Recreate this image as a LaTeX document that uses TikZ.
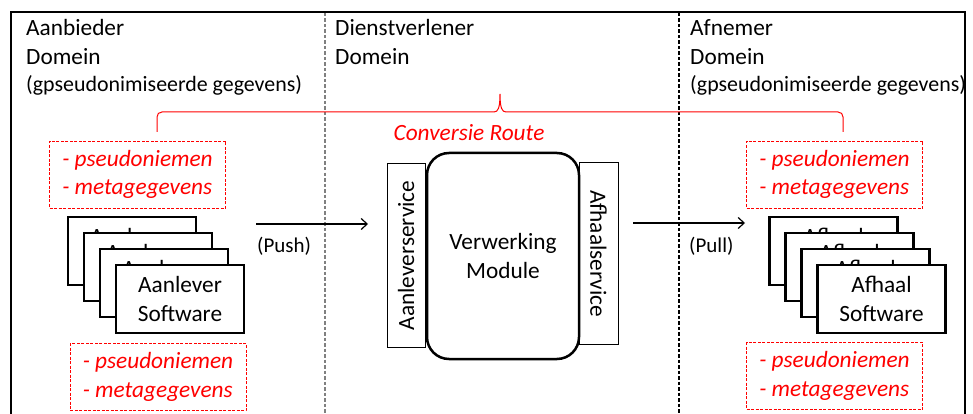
\documentclass[tikz,border=0pt]{standalone}
\usepackage{fontspec}
\setmainfont{Carlito}
\usetikzlibrary{arrows.meta}
\definecolor{divgray}{RGB}{128,128,128}
\begin{document}
\begin{tikzpicture}[x=1pt,y=-1pt,
  ttl/.style={anchor=base west, inner sep=0pt, align=left, font=\fontsize{23.3}{29}\selectfont},
  subttl/.style={anchor=base west, inner sep=0pt, font=\fontsize{21.9}{27}\selectfont},
  redbox/.style={draw=red, line width=0.9pt, dash pattern=on 3pt off 1.5pt, text=red, align=left,
    font=\fontsize{23.3}{28.5}\selectfont\itshape, inner xsep=9pt, minimum height=67pt, minimum width=176pt},
  swbox/.style={draw, line width=2.5pt, fill=white, minimum width=128pt, minimum height=68pt,
    align=center, font=\fontsize{23.3}{29}\selectfont, inner sep=0pt},
  svc/.style={draw, line width=1pt, minimum height=38pt, align=center,
    font=\fontsize{23.3}{29}\selectfont, inner sep=0pt},
  modbox/.style={draw, line width=2.5pt, rounded corners=22pt, minimum width=152pt, minimum height=206pt,
    align=center, font=\fontsize{23.3}{29}\selectfont},
  flow/.style={line width=1.2pt, -{Straight Barb[length=6pt,width=11pt,line width=1.2pt]}},
  flowlbl/.style={anchor=base west, inner sep=0pt, font=\fontsize{21}{26}\selectfont},
  divider/.style={line width=1.1pt, dash pattern=on 3.5pt off 2pt}
]
\useasboundingbox (0,0) rectangle (973,414);

% frame
\draw[line width=2.2pt] (11,415) -- (11,12) -- (965,12) -- (965,415);
\draw[divider, divgray] (325,13) -- (325,414);
\draw[divider, black] (679,13) -- (679,414);

% titles (base anchor = last line)
\node[ttl] (t1) at (26,65) {Aanbieder\\Domein};
\node[subttl] (s1) at (26,92) {(gpseudonimiseerde gegevens)};
\node[ttl] (t2) at (335,65) {Dienstverlener\\Domein};
\node[ttl] (t3) at (690,65) {Afnemer\\Domein};
\node[subttl] (s3) at (690,92) {(gpseudonimiseerde gegevens)};

% brace
\draw[red, line width=1pt] (157,132) -- (157,117) .. controls (157,114) and (159,112) .. (162,112)
  -- (494,112) .. controls (498,112) and (500,108) .. (500,94)
  .. controls (500,108) and (502,112) .. (506,112)
  -- (838,112) .. controls (841,112) and (843,114) .. (843,117) -- (843,132);
\node[anchor=base, inner sep=0pt, text=red, font=\fontsize{23.3}{29}\selectfont\itshape] (cr) at (469,141) {Conversie Route};

% red boxes
\node[redbox] (rl1) at (137.5,174.5) {- pseudoniemen\\- metagegevens};
\node[redbox] (rl2) at (158,377) {- pseudoniemen\\- metagegevens};
\node[redbox] (rr1) at (834.5,174.5) {- pseudoniemen\\- metagegevens};
\node[redbox] (rr2) at (834.5,376) {- pseudoniemen\\- metagegevens};

% left stack
\node[swbox] (la1) at (132,251) {Aanlever\\Software};
\node[swbox] (la2) at (148,267) {Aanlever\\Software};
\node[swbox] (la3) at (164,283) {Aanlever\\Software};
\node[swbox] (la4) at (180,299) {Aanlever\\Software};

% right stack
\node[swbox] (ra1) at (833.5,251) {Afhaal\\Software};
\node[swbox] (ra2) at (849.5,267) {Afhaal\\Software};
\node[swbox] (ra3) at (865.5,283) {Afhaal\\Software};
\node[swbox] (ra4) at (881.5,299) {Afhaal\\Software};

% center
\node[svc, rotate=90, minimum width=183pt] (aan) at (406,255.5) {Aanleverservice};
\node[modbox] (mod) at (503,256) {Verwerking\\Module};
\node[svc, rotate=-90, minimum width=181pt, minimum height=39pt] (afh) at (598.5,253.5) {Afhaalservice};

% flows
\coordinate (pushS) at (256,224);
\coordinate (pushE) at (368,224);
\coordinate (pullS) at (633,223);
\coordinate (pullE) at (745,223);
\draw[flow] (pushS) -- (pushE);
\draw[flow] (pullS) -- (pullE);
\node[flowlbl] (push) at (257,252) {(Push)};
\node[flowlbl] (pull) at (689,252) {(Pull)};
\end{tikzpicture}
\end{document}
